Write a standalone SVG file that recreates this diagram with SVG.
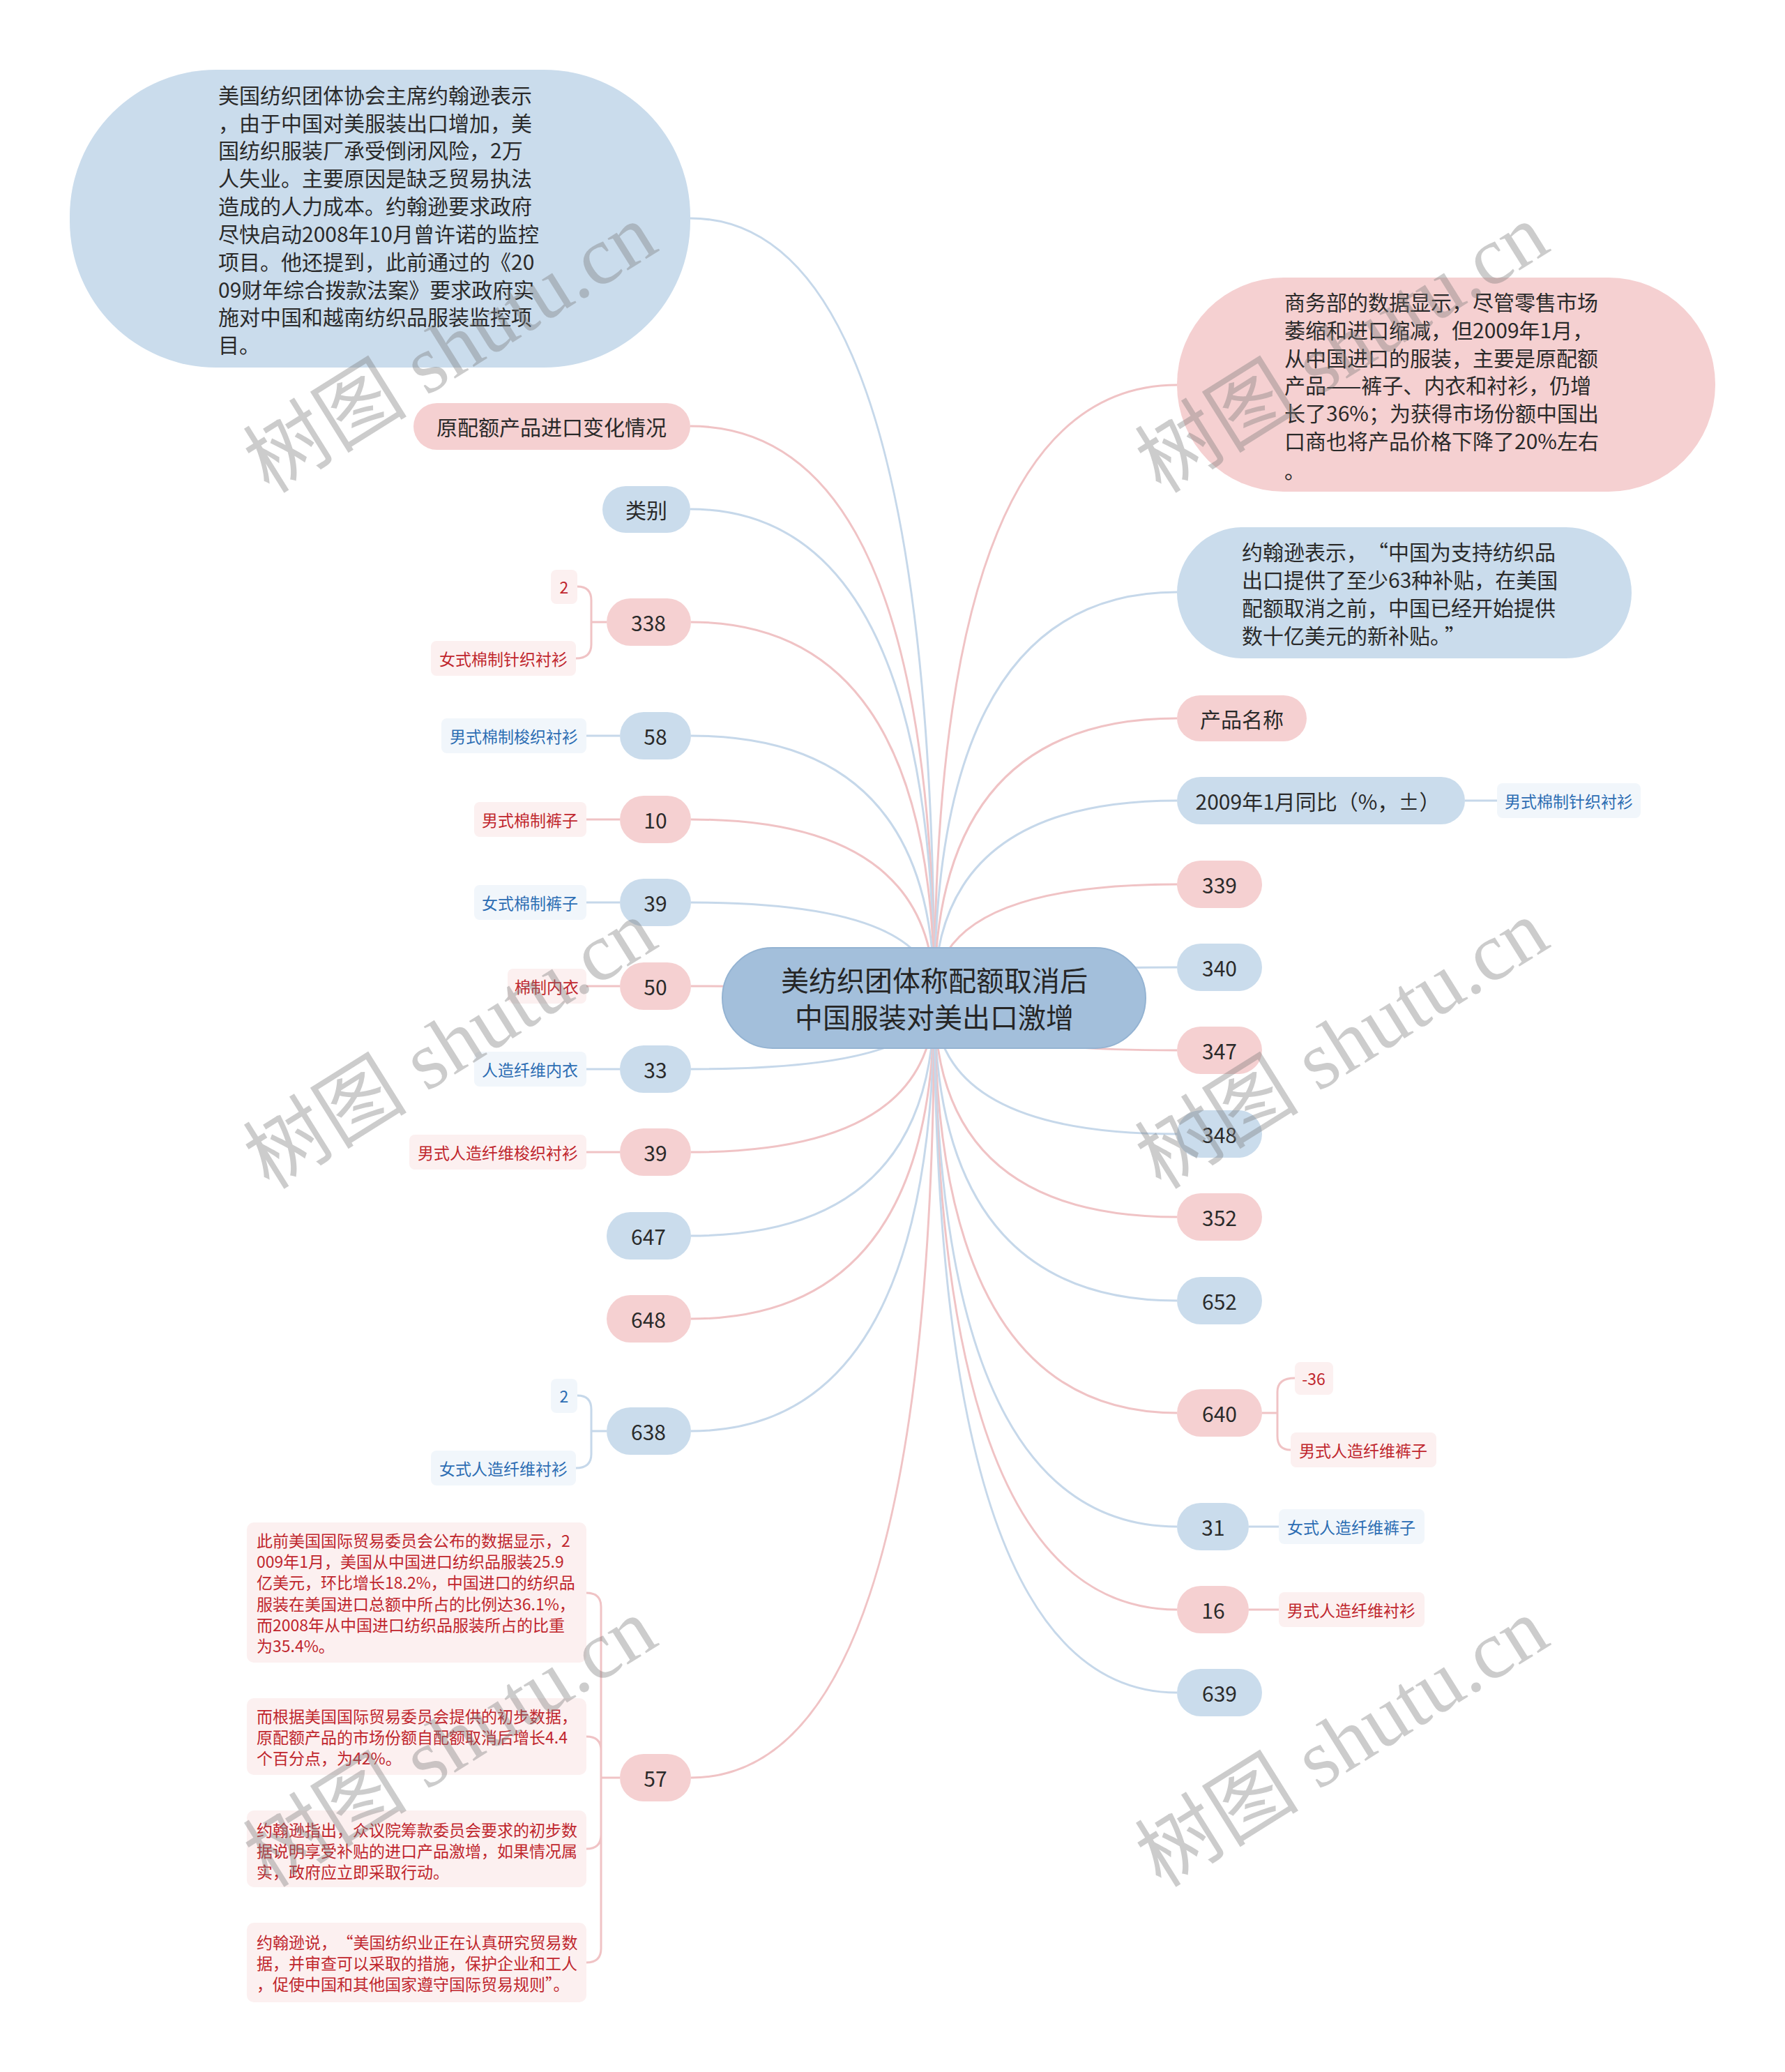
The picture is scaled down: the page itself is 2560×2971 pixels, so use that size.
<svg xmlns="http://www.w3.org/2000/svg" width="2560" height="2971" viewBox="0 0 2560 2971">
<style>
text{font-family:"Noto Sans CJK SC","Noto Sans",sans-serif;dominant-baseline:central}
.pk{fill:#f5d0d1}
.bl{fill:#cadcec}
.ct{fill:#a3bfdb;stroke:#94b3d2;stroke-width:2}
.cp{fill:#fcf0f0}
.cb{fill:#f1f6fb}
.t{font-size:30px;fill:#2a2a2a}
.tc{font-size:40px;fill:#262626;text-anchor:middle}
.m{text-anchor:middle}
.tr{font-size:23px;fill:#c0262d}
.tb{font-size:23px;fill:#2c6db3}
.lp{stroke:#f0c3c5;stroke-width:3;fill:none}
.lb{stroke:#c6d8ea;stroke-width:3;fill:none}
.wm{font-family:"Liberation Serif","Noto Sans CJK SC",serif;font-size:118px;fill:#7a7a7a;fill-opacity:0.38;text-anchor:middle}
</style>

<g id="connectors">
<path class="lb" d="M990 313 Q1340 313 1340 1431"/>
<path class="lp" d="M990 611 Q1340 611 1340 1431"/>
<path class="lb" d="M990 730 Q1340 730 1340 1431"/>
<path class="lp" d="M991 892 Q1340 892 1340 1431"/>
<path class="lb" d="M991 1055 Q1340 1055 1340 1431"/>
<path class="lp" d="M991 1175 Q1340 1175 1340 1431"/>
<path class="lb" d="M991 1294 Q1340 1294 1340 1431"/>
<path class="lp" d="M991 1414 Q1340 1414 1340 1431"/>
<path class="lb" d="M991 1533 Q1340 1533 1340 1431"/>
<path class="lp" d="M991 1652 Q1340 1652 1340 1431"/>
<path class="lb" d="M991 1772 Q1340 1772 1340 1431"/>
<path class="lp" d="M991 1891 Q1340 1891 1340 1431"/>
<path class="lb" d="M991 2052 Q1340 2052 1340 1431"/>
<path class="lp" d="M991 2549 Q1340 2549 1340 1431"/>
<path class="lp" d="M1688 552 Q1340 552 1340 1431"/>
<path class="lb" d="M1688 849 Q1340 849 1340 1431"/>
<path class="lp" d="M1688 1030 Q1340 1030 1340 1431"/>
<path class="lb" d="M1688 1148 Q1340 1148 1340 1431"/>
<path class="lp" d="M1688 1268 Q1340 1268 1340 1431"/>
<path class="lb" d="M1688 1387 Q1340 1387 1340 1431"/>
<path class="lp" d="M1688 1506 Q1340 1506 1340 1431"/>
<path class="lb" d="M1688 1626 Q1340 1626 1340 1431"/>
<path class="lp" d="M1688 1745 Q1340 1745 1340 1431"/>
<path class="lb" d="M1688 1865 Q1340 1865 1340 1431"/>
<path class="lp" d="M1688 2026 Q1340 2026 1340 1431"/>
<path class="lb" d="M1688 2189 Q1340 2189 1340 1431"/>
<path class="lp" d="M1688 2308 Q1340 2308 1340 1431"/>
<path class="lb" d="M1688 2427 Q1340 2427 1340 1431"/>
<!-- sub connectors -->
<path class="lp" d="M870 892 H848 M828 841 Q848 841 848 861 V924 Q848 944 826 944"/>
<path class="lb" d="M841 1055 H889"/>
<path class="lp" d="M841 1175 H889"/>
<path class="lb" d="M841 1294 H889"/>
<path class="lp" d="M841 1414 H889"/>
<path class="lb" d="M841 1533 H889"/>
<path class="lp" d="M841 1652 H889"/>
<path class="lb" d="M870 2052 H848 M828 2001 Q848 2001 848 2021 V2085 Q848 2105 826 2105"/>
<path class="lp" d="M889 2549 H862 M841 2284 Q862 2284 862 2304 V2794 Q862 2814 841 2814 M841 2490 Q862 2490 862 2510 M841 2651 Q862 2651 862 2631"/>
<path class="lb" d="M2101 1148 H2147"/>
<path class="lp" d="M1810 2026 H1832 M1857 1976 Q1832 1976 1832 1996 V2059 Q1832 2079 1851 2079"/>
<path class="lb" d="M1791 2189 H1834"/>
<path class="lp" d="M1791 2308 H1834"/>
</g>

<g id="center">
<rect class="ct" x="1036" y="1359" width="607" height="144" rx="72"/>
<text class="tc" x="1340" y="1404">美纺织团体称配额取消后</text>
<text class="tc" x="1340" y="1457">中国服装对美出口激增</text>
</g>

<g id="n-left-big">
<rect class="bl" x="100" y="100" width="890" height="427" rx="210"/>
<text class="t" x="313" y="135">美国纺织团体协会主席约翰逊表示</text>
<text class="t" x="313" y="175">，由于中国对美服装出口增加，美</text>
<text class="t" x="313" y="214">国纺织服装厂承受倒闭风险，2万</text>
<text class="t" x="313" y="254">人失业。主要原因是缺乏贸易执法</text>
<text class="t" x="313" y="294">造成的人力成本。约翰逊要求政府</text>
<text class="t" x="313" y="334">尽快启动2008年10月曾许诺的监控</text>
<text class="t" x="313" y="374">项目。他还提到，此前通过的《20</text>
<text class="t" x="313" y="414">09财年综合拨款法案》要求政府实</text>
<text class="t" x="313" y="453">施对中国和越南纺织品服装监控项</text>
<text class="t" x="313" y="493">目。</text>
</g>

<g id="n-yuanpeie">
<rect class="pk" x="593" y="578" width="397" height="67" rx="33.5"/>
<text class="t m" x="791" y="611">原配额产品进口变化情况</text>
</g>
<g id="n-leibie">
<rect class="bl" x="864" y="697" width="126" height="67" rx="33.5"/>
<text class="t m" x="927" y="730">类别</text>
</g>
<g id="n-338">
<rect class="pk" x="870" y="858" width="121" height="68" rx="34"/>
<text class="t m" x="930" y="892">338</text>
<rect class="cp" x="790" y="817" width="38" height="49" rx="8"/>
<text class="tr m" x="809" y="841">2</text>
<rect class="cp" x="618" y="919" width="208" height="50" rx="8"/>
<text class="tr m" x="722" y="944">女式棉制针织衬衫</text>
</g>
<g id="n-58">
<rect class="bl" x="889" y="1021" width="102" height="68" rx="34"/>
<text class="t m" x="940" y="1055">58</text>
<rect class="cb" x="633" y="1030" width="208" height="50" rx="8"/>
<text class="tb m" x="737" y="1055">男式棉制梭织衬衫</text>
</g>
<g id="n-10">
<rect class="pk" x="889" y="1141" width="102" height="68" rx="34"/>
<text class="t m" x="940" y="1175">10</text>
<rect class="cp" x="680" y="1150" width="161" height="50" rx="8"/>
<text class="tr m" x="760" y="1175">男式棉制裤子</text>
</g>
<g id="n-39a">
<rect class="bl" x="889" y="1260" width="102" height="68" rx="34"/>
<text class="t m" x="940" y="1294">39</text>
<rect class="cb" x="680" y="1269" width="161" height="50" rx="8"/>
<text class="tb m" x="760" y="1294">女式棉制裤子</text>
</g>
<g id="n-50">
<rect class="pk" x="889" y="1380" width="102" height="68" rx="34"/>
<text class="t m" x="940" y="1414">50</text>
<rect class="cp" x="728" y="1389" width="113" height="50" rx="8"/>
<text class="tr m" x="784" y="1414">棉制内衣</text>
</g>
<g id="n-33">
<rect class="bl" x="889" y="1499" width="102" height="68" rx="34"/>
<text class="t m" x="940" y="1533">33</text>
<rect class="cb" x="680" y="1508" width="161" height="50" rx="8"/>
<text class="tb m" x="760" y="1533">人造纤维内衣</text>
</g>
<g id="n-39b">
<rect class="pk" x="889" y="1618" width="102" height="68" rx="34"/>
<text class="t m" x="940" y="1652">39</text>
<rect class="cp" x="587" y="1627" width="254" height="50" rx="8"/>
<text class="tr m" x="714" y="1652">男式人造纤维梭织衬衫</text>
</g>
<g id="n-647">
<rect class="bl" x="870" y="1738" width="121" height="68" rx="34"/>
<text class="t m" x="930" y="1772">647</text>
</g>
<g id="n-648">
<rect class="pk" x="870" y="1857" width="121" height="68" rx="34"/>
<text class="t m" x="930" y="1891">648</text>
</g>
<g id="n-638">
<rect class="bl" x="870" y="2018" width="121" height="68" rx="34"/>
<text class="t m" x="930" y="2052">638</text>
<rect class="cb" x="790" y="1977" width="38" height="49" rx="8"/>
<text class="tb m" x="809" y="2001">2</text>
<rect class="cb" x="618" y="2080" width="208" height="50" rx="8"/>
<text class="tb m" x="722" y="2105">女式人造纤维衬衫</text>
</g>
<g id="n-57">
<rect class="pk" x="889" y="2515" width="102" height="68" rx="34"/>
<text class="t m" x="940" y="2549">57</text>
</g>
<g id="n-57-c1">
<rect class="cp" x="354" y="2183" width="487" height="201" rx="10"/>
<text class="tr" x="368" y="2208">此前美国国际贸易委员会公布的数据显示，2</text>
<text class="tr" x="368" y="2238">009年1月，美国从中国进口纺织品服装25.9</text>
<text class="tr" x="368" y="2268">亿美元，环比增长18.2%，中国进口的纺织品</text>
<text class="tr" x="368" y="2299">服装在美国进口总额中所占的比例达36.1%，</text>
<text class="tr" x="368" y="2329">而2008年从中国进口纺织品服装所占的比重</text>
<text class="tr" x="368" y="2359">为35.4%。</text>
</g>
<g id="n-57-c2">
<rect class="cp" x="354" y="2435" width="487" height="110" rx="10"/>
<text class="tr" x="368" y="2460">而根据美国国际贸易委员会提供的初步数据，</text>
<text class="tr" x="368" y="2490">原配额产品的市场份额自配额取消后增长4.4</text>
<text class="tr" x="368" y="2520">个百分点，为42%。</text>
</g>
<g id="n-57-c3">
<rect class="cp" x="354" y="2596" width="487" height="110" rx="10"/>
<text class="tr" x="368" y="2623">约翰逊指出，众议院筹款委员会要求的初步数</text>
<text class="tr" x="368" y="2653">据说明享受补贴的进口产品激增，如果情况属</text>
<text class="tr" x="368" y="2683">实，政府应立即采取行动。</text>
</g>
<g id="n-57-c4">
<rect class="cp" x="354" y="2757" width="487" height="114" rx="10"/>
<text class="tr" x="368" y="2784">约翰逊说，<tspan dx="12">“美国纺织业正在认真研究贸易数</tspan></text>
<text class="tr" x="368" y="2814">据，并审查可以采取的措施，保护企业和工人</text>
<text class="tr" x="368" y="2844">，促使中国和其他国家遵守国际贸易规则”。</text>
</g>

<g id="n-right-big">
<rect class="pk" x="1688" y="398" width="772" height="307" rx="153"/>
<text class="t" x="1842" y="432">商务部的数据显示，尽管零售市场</text>
<text class="t" x="1842" y="472">萎缩和进口缩减，但2009年1月，</text>
<text class="t" x="1842" y="512">从中国进口的服装，主要是原配额</text>
<text class="t" x="1842" y="551">产品——裤子、内衣和衬衫，仍增</text>
<text class="t" x="1842" y="591">长了36%；为获得市场份额中国出</text>
<text class="t" x="1842" y="631">口商也将产品价格下降了20%左右</text>
<text class="t" x="1842" y="673">。</text>
</g>
<g id="n-right-quote">
<rect class="bl" x="1688" y="756" width="652" height="188" rx="94"/>
<text class="t" x="1781" y="790">约翰逊表示，<tspan dx="15">“中国为支持纺织品</tspan></text>
<text class="t" x="1781" y="830">出口提供了至少63种补贴，在美国</text>
<text class="t" x="1781" y="870">配额取消之前，中国已经开始提供</text>
<text class="t" x="1781" y="910">数十亿美元的新补贴。<tspan dx="6">”</tspan></text>
</g>
<g id="n-chanpin">
<rect class="pk" x="1688" y="997" width="186" height="66" rx="33"/>
<text class="t m" x="1781" y="1030">产品名称</text>
</g>
<g id="n-2009">
<rect class="bl" x="1688" y="1114" width="413" height="68" rx="34"/>
<text class="t m" x="1890" y="1148">2009年1月同比（%，±）</text>
<rect class="cb" x="2147" y="1123" width="206" height="50" rx="8"/>
<text class="tb m" x="2250" y="1148">男式棉制针织衬衫</text>
</g>
<g id="n-339">
<rect class="pk" x="1688" y="1234" width="122" height="68" rx="34"/>
<text class="t m" x="1749" y="1268">339</text>
</g>
<g id="n-340">
<rect class="bl" x="1688" y="1353" width="122" height="68" rx="34"/>
<text class="t m" x="1749" y="1387">340</text>
</g>
<g id="n-347">
<rect class="pk" x="1688" y="1472" width="122" height="68" rx="34"/>
<text class="t m" x="1749" y="1506">347</text>
</g>
<g id="n-348">
<rect class="bl" x="1688" y="1592" width="122" height="68" rx="34"/>
<text class="t m" x="1749" y="1626">348</text>
</g>
<g id="n-352">
<rect class="pk" x="1688" y="1711" width="122" height="68" rx="34"/>
<text class="t m" x="1749" y="1745">352</text>
</g>
<g id="n-652">
<rect class="bl" x="1688" y="1831" width="122" height="68" rx="34"/>
<text class="t m" x="1749" y="1865">652</text>
</g>
<g id="n-640">
<rect class="pk" x="1688" y="1992" width="122" height="68" rx="34"/>
<text class="t m" x="1749" y="2026">640</text>
<rect class="cp" x="1857" y="1953" width="55" height="47" rx="8"/>
<text class="tr m" x="1884" y="1976">-36</text>
<rect class="cp" x="1851" y="2054" width="209" height="50" rx="8"/>
<text class="tr m" x="1955" y="2079">男式人造纤维裤子</text>
</g>
<g id="n-31">
<rect class="bl" x="1688" y="2155" width="103" height="68" rx="34"/>
<text class="t m" x="1740" y="2189">31</text>
<rect class="cb" x="1834" y="2164" width="209" height="50" rx="8"/>
<text class="tb m" x="1938" y="2189">女式人造纤维裤子</text>
</g>
<g id="n-16">
<rect class="pk" x="1688" y="2274" width="103" height="68" rx="34"/>
<text class="t m" x="1740" y="2308">16</text>
<rect class="cp" x="1834" y="2283" width="209" height="50" rx="8"/>
<text class="tr m" x="1938" y="2308">男式人造纤维衬衫</text>
</g>
<g id="n-639">
<rect class="bl" x="1688" y="2393" width="122" height="68" rx="34"/>
<text class="t m" x="1749" y="2427">639</text>
</g>

<g id="watermarks">
<text class="wm" transform="translate(646 500) rotate(-32)">树图 shutu.cn</text>
<text class="wm" transform="translate(1925 500) rotate(-32)">树图 shutu.cn</text>
<text class="wm" transform="translate(646 1498) rotate(-32)">树图 shutu.cn</text>
<text class="wm" transform="translate(1925 1498) rotate(-32)">树图 shutu.cn</text>
<text class="wm" transform="translate(646 2499) rotate(-32)">树图 shutu.cn</text>
<text class="wm" transform="translate(1925 2499) rotate(-32)">树图 shutu.cn</text>
</g>
</svg>
